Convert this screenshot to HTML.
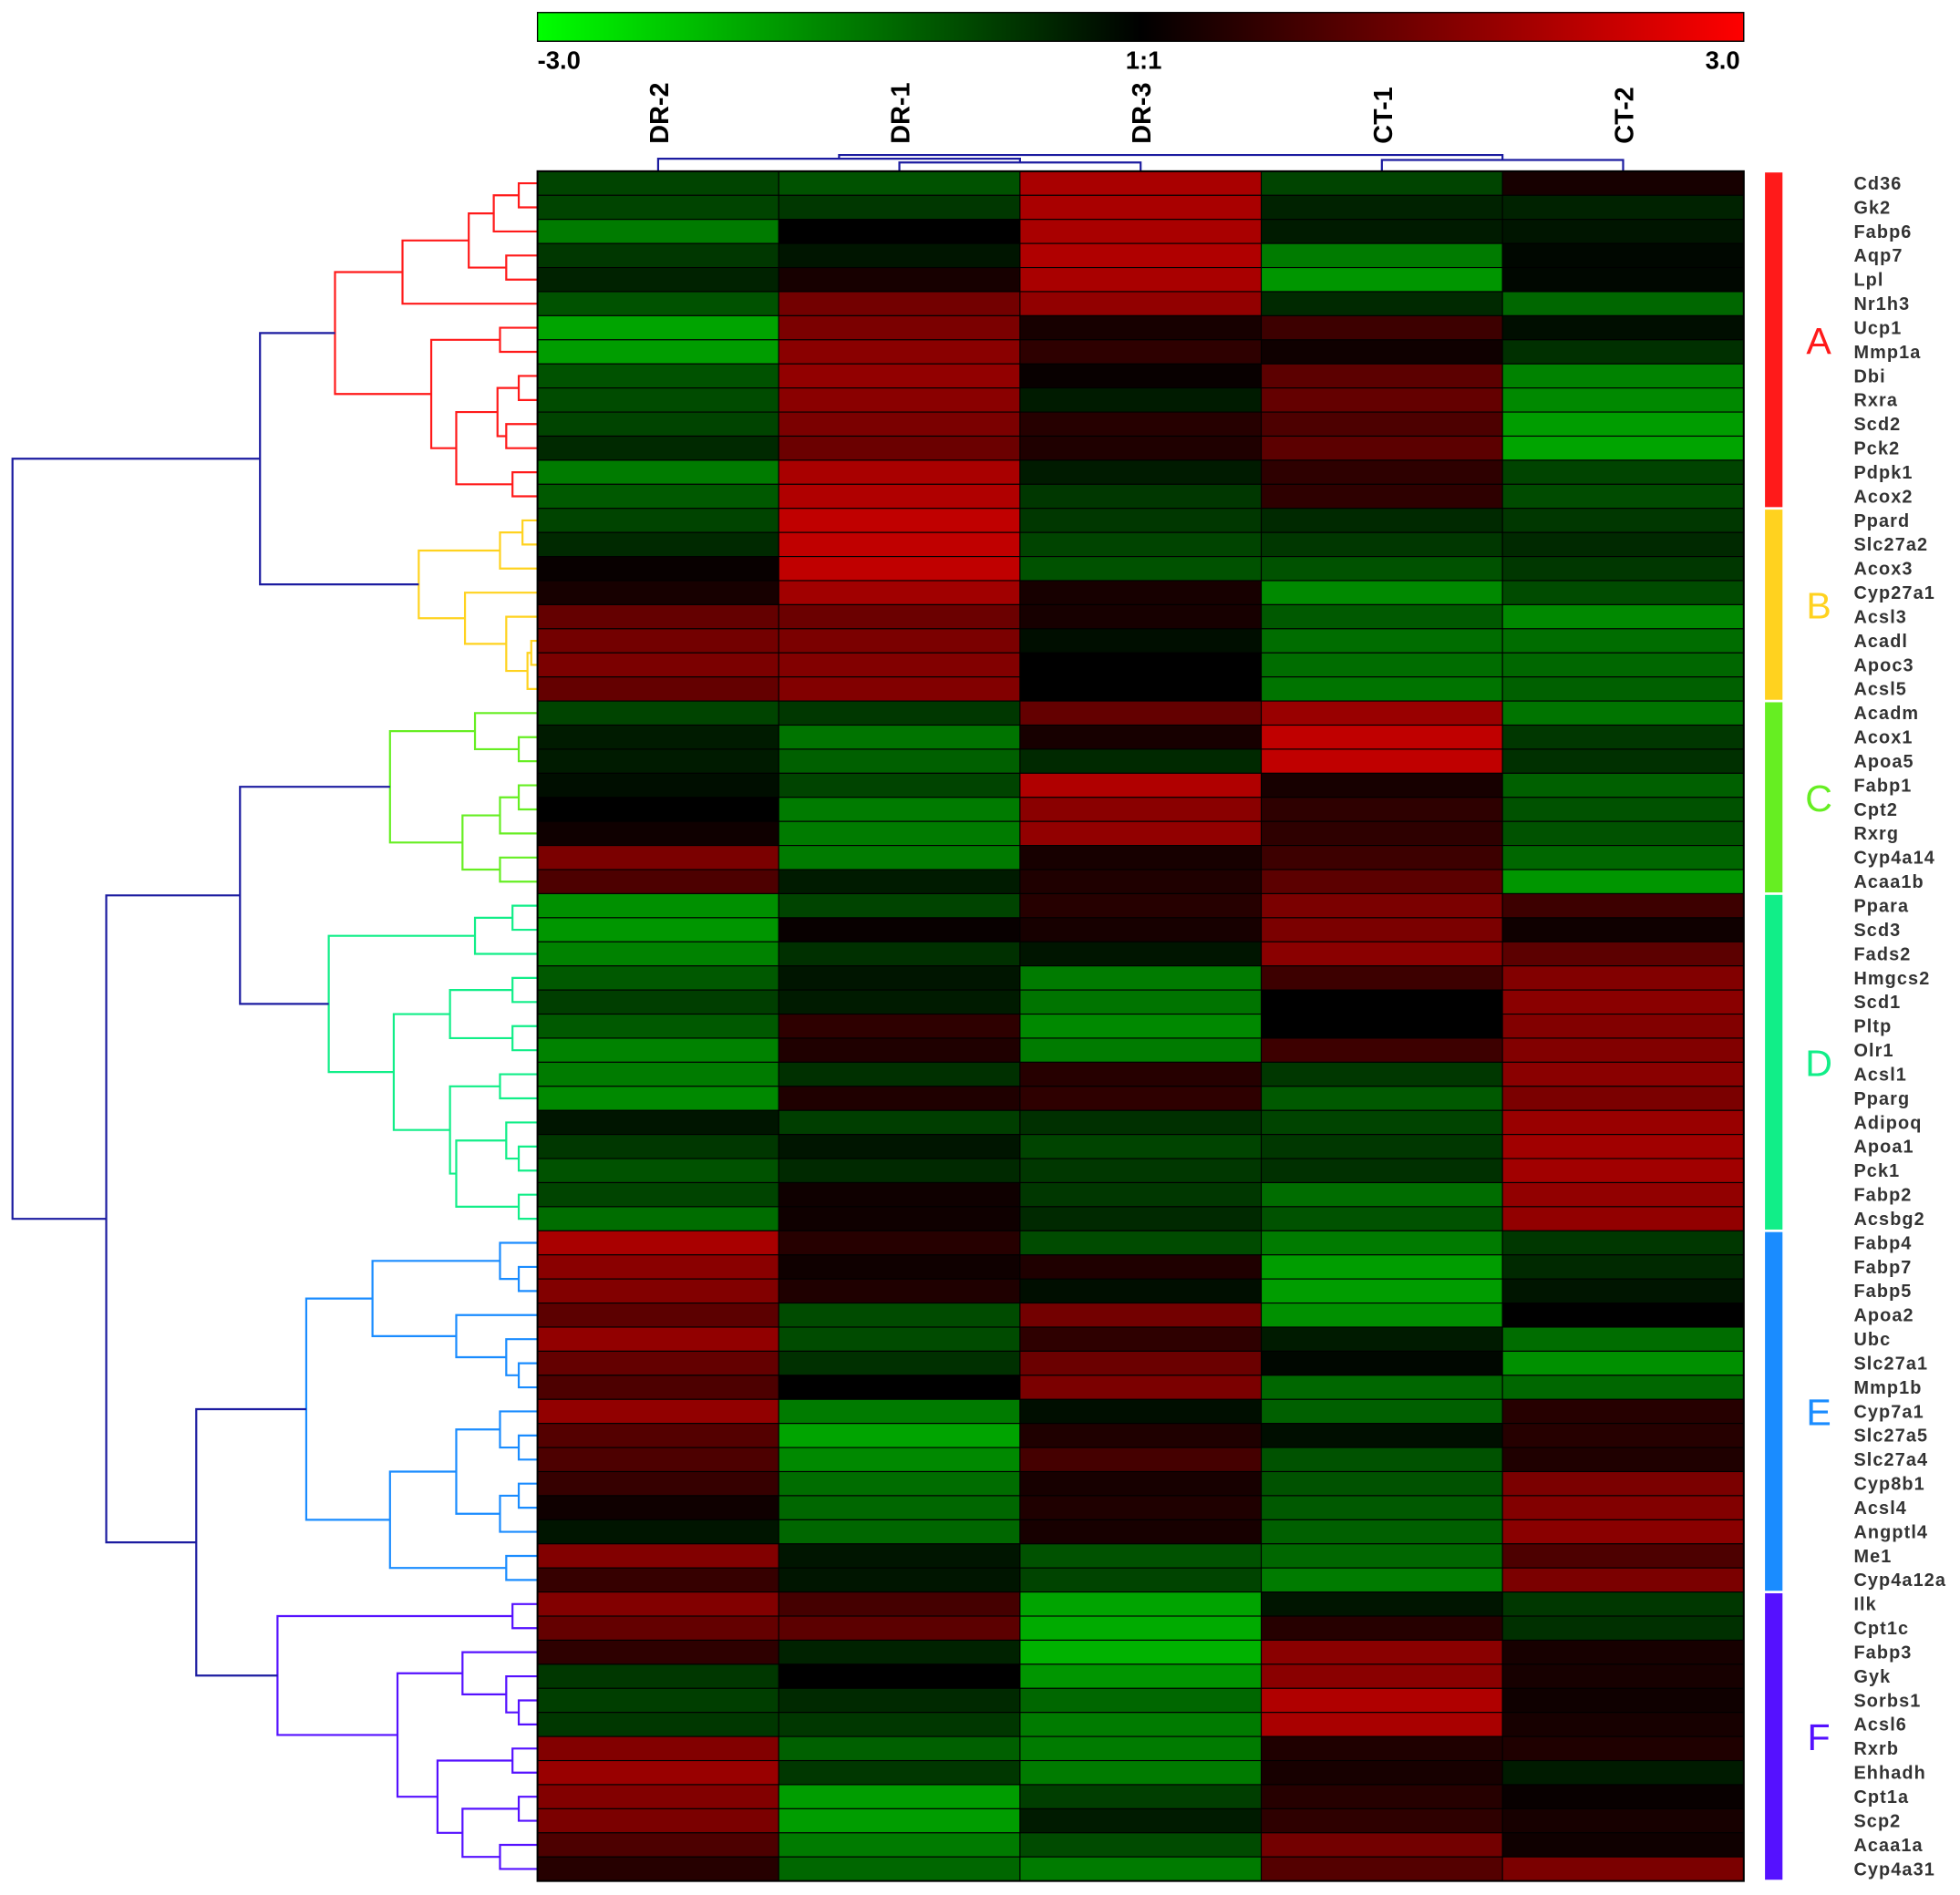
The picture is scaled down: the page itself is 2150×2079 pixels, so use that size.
<!DOCTYPE html>
<html><head><meta charset="utf-8"><style>
html,body{margin:0;padding:0;background:#fff;}
svg{display:block;}
</style></head><body>
<svg id="chart" width="2150" height="2079" viewBox="0 0 1568 1516.2" xmlns="http://www.w3.org/2000/svg" font-family="Liberation Sans, Arial, sans-serif">
<defs><linearGradient id="cb" x1="0" x2="1" y1="0" y2="0">
<stop offset="0" stop-color="#00ff00"/><stop offset="0.5" stop-color="#000"/><stop offset="1" stop-color="#ff0000"/></linearGradient></defs>
<rect x="430" y="10" width="965" height="23" fill="url(#cb)" stroke="#000" stroke-width="1"/>
<text x="430" y="55" font-size="20" font-weight="bold">-3.0</text>
<text x="915" y="55" font-size="20" font-weight="bold" text-anchor="middle">1:1</text>
<text x="1392" y="55" font-size="20" font-weight="bold" text-anchor="end">3.0</text>
<g id="dendro"></g>
<g id="cells"></g>
<g id="labels"></g>
</svg>
<script>
const samples=["DR-2","DR-1","DR-3","CT-1","CT-2"];
const genes=["Cd36","Gk2","Fabp6","Aqp7","Lpl","Nr1h3","Ucp1","Mmp1a","Dbi","Rxra","Scd2","Pck2","Pdpk1","Acox2","Ppard","Slc27a2","Acox3","Cyp27a1","Acsl3","Acadl","Apoc3","Acsl5","Acadm","Acox1","Apoa5","Fabp1","Cpt2","Rxrg","Cyp4a14","Acaa1b","Ppara","Scd3","Fads2","Hmgcs2","Scd1","Pltp","Olr1","Acsl1","Pparg","Adipoq","Apoa1","Pck1","Fabp2","Acsbg2","Fabp4","Fabp7","Fabp5","Apoa2","Ubc","Slc27a1","Mmp1b","Cyp7a1","Slc27a5","Slc27a4","Cyp8b1","Acsl4","Angptl4","Me1","Cyp4a12a","Ilk","Cpt1c","Fabp3","Gyk","Sorbs1","Acsl6","Rxrb","Ehhadh","Cpt1a","Scp2","Acaa1a","Cyp4a31"];
const valDR2=[-1.0,-1.0,-1.8,-0.8,-0.5,-1.2,-2.4,-2.3,-1.2,-1.1,-1.0,-0.6,-1.8,-1.3,-1.0,-0.6,0.1,0.3,1.3,1.5,1.6,1.3,-1.0,-0.4,-0.4,-0.2,0,0.2,1.6,1.0,-2.1,-2.2,-1.9,-1.3,-0.9,-1.3,-1.9,-1.8,-2.0,-0.3,-0.8,-1.2,-1.0,-1.6,2.2,1.8,1.7,1.2,1.9,1.3,1.0,1.9,1.1,1.0,0.7,0.2,-0.3,1.7,0.7,1.7,1.3,0.6,-0.8,-0.9,-0.8,1.7,2.0,1.7,1.6,1.0,0.5];
const valDR1=[-1.2,-0.8,0,-0.3,0.3,1.5,1.6,1.8,1.9,1.8,1.6,1.4,2.2,2.3,2.5,2.5,2.5,2.1,1.4,1.6,1.7,1.7,-0.8,-1.7,-1.4,-1.0,-1.8,-1.8,-1.8,-0.4,-1.0,0.1,-0.7,-0.3,-0.4,0.6,0.4,-0.7,0.4,-0.9,-0.3,-0.6,0.2,0.2,0.5,0.2,0.4,-1.1,-1.1,-0.7,0,-1.8,-2.4,-2.0,-1.6,-1.5,-1.5,-0.3,-0.3,0.9,1.2,-0.5,0,-0.6,-0.8,-1.4,-0.8,-2.3,-2.3,-1.8,-1.5];
const valDR3=[2.2,2.2,2.2,2.3,2.2,1.9,0.3,0.6,0.1,-0.4,0.5,0.4,-0.4,-0.8,-0.8,-1.0,-1.2,0.3,0.3,-0.2,0,0,1.3,0.3,-0.6,2.3,1.8,1.9,0.3,0.4,0.5,0.3,-0.3,-1.8,-1.7,-2.0,-1.8,0.5,0.6,-0.7,-1.0,-0.8,-0.8,-0.6,-1.1,0.4,-0.2,1.5,0.6,1.4,1.6,-0.2,0.4,0.9,0.3,0.4,0.3,-1.2,-1.0,-2.4,-2.5,-2.6,-2.2,-1.5,-1.8,-1.8,-1.8,-0.9,-0.4,-1.1,-1.8];
const valCT1=[-1.0,-0.5,-0.4,-1.8,-2.2,-0.6,0.8,0.2,1.2,1.3,1.0,1.2,0.6,0.6,-0.6,-0.8,-1.2,-2.0,-1.3,-1.6,-1.6,-1.7,2.0,2.5,2.5,0.3,0.6,0.6,0.8,1.2,1.6,1.6,1.8,0.8,0,0,0.8,-0.8,-1.3,-1.0,-0.8,-0.7,-1.6,-1.2,-1.8,-2.3,-2.3,-2.1,-0.4,-0.1,-1.5,-1.4,-0.2,-1.2,-1.2,-1.3,-1.4,-1.5,-1.8,-0.3,0.5,1.8,1.8,2.3,2.2,0.4,0.3,0.5,0.6,1.5,1.1];
const valCT2=[0.3,-0.5,-0.3,-0.1,-0.1,-1.5,-0.2,-0.7,-1.9,-2.0,-2.3,-2.4,-1.0,-1.1,-0.8,-0.6,-0.8,-1.1,-2.0,-1.6,-1.5,-1.4,-1.7,-0.8,-0.7,-1.4,-1.2,-1.2,-1.5,-2.2,0.8,0.2,1.2,1.7,1.8,1.7,1.7,1.8,1.6,2.0,2.1,2.1,1.9,1.9,-0.8,-0.6,-0.3,0,-1.6,-2.1,-1.5,0.5,0.5,0.4,1.6,1.7,1.8,1.0,1.6,-0.8,-0.7,0.3,0.3,0.2,0.3,0.4,-0.4,0.1,0.3,0.2,1.6];
const series=[valDR2,valDR1,valDR3,valCT1,valCT2];
const clusters=[["A",0,13,"#ff1a1a"],["B",14,21,"#ffd21f"],["C",22,29,"#66ee22"],["D",30,43,"#11ee88"],["E",44,58,"#1a8cff"],["F",59,70,"#5511ff"]];
const NS="http://www.w3.org/2000/svg";
const X0=430,X1=1395,Y0=137,Y1=1505;
const cw=(X1-X0)/samples.length, rh=(Y1-Y0)/genes.length;
const xS=i=>X0+i*cw, yS=j=>Y0+j*rh;
function col(v){v=Math.max(-3,Math.min(3,v));
 if(v>=0) return `rgb(${Math.round(v/3*230)},0,0)`;
 return `rgb(0,${Math.round(-v/3*205)},0)`;}
function mk(tag,attrs,parent){const e=document.createElementNS(NS,tag);for(const k in attrs)e.setAttribute(k,attrs[k]);parent.appendChild(e);return e;}
const cells=document.getElementById('cells');
series.forEach((s,i)=>s.forEach((v,j)=>{
 const r=mk('rect',{x:xS(i),y:yS(j),width:cw,height:rh,fill:col(v),stroke:'#000','stroke-width':0.8},cells);
 
 
}));
mk('rect',{x:X0,y:Y0,width:X1-X0,height:Y1-Y0,fill:'none',stroke:'#000','stroke-width':1.5},cells);
const lab=document.getElementById('labels');
samples.forEach((s,i)=>{
 const cx=xS(i)+cw/2+8;
 const t=mk('text',{x:0,y:0,transform:`translate(${cx},115) rotate(-90)`,'font-size':21,'font-weight':'bold'},lab);
 t.textContent=s;
 
 
});
genes.forEach((g,j)=>{
 const t=mk('text',{x:1483,y:yS(j)+rh/2+5,'font-size':14.5,'font-weight':'bold',fill:'#333','letter-spacing':'0.8'},lab);
 t.textContent=g;
 
 
});
clusters.forEach(c=>{
 const r=mk('rect',{x:1412,y:yS(c[1])+1,width:14,height:(c[2]-c[1]+1)*rh-2,fill:c[3]},lab);
 
 
 const t=mk('text',{x:1455,y:yS((c[1]+c[2]+1)/2)+11,'font-size':30,fill:c[3],'text-anchor':'middle'},lab);
 t.textContent=c[0];
 
 
});
const A=[268,[322,[375,[395,[415,0,1],2],[405,3,4]],5],[345,[400,6,7],[365,[398,[415,8,9],[405,10,11]],[410,12,13]]]];
const B=[335,[400,[418,14,15],16],[372,17,[405,18,[422,[425,19,20],21]]]];
const C=[312,[380,22,[415,23,24]],[370,[400,[415,25,26],27],[400,28,29]]];
const D=[263,[380,[410,30,31],32],[315,[360,[410,33,34],[410,35,36]],[360,[400,37,38],[365,[405,39,[415,40,41]],[415,42,43]]]]];
const E=[245,[298,[400,44,[415,45,46]],[365,47,[405,48,[415,49,50]]]],[312,[365,[400,51,[415,52,53]],[400,[415,54,55],56]],[405,57,58]]];
const F=[222,[410,59,60],[318,[370,61,[405,62,[415,63,64]]],[350,[410,65,66],[370,[415,67,68],[400,69,70]]]]];
const colorOf={};[[A,0],[B,1],[C,2],[D,3],[E,4],[F,5]].forEach(p=>colorOf[JSON.stringify(p[0])]=clusters[p[1]][3]);
const root=[10,[208,A,B],[85,[192,C,D],[157,E,F]]];
const dg=document.getElementById('dendro');
function draw(n,color){
 if(typeof n==='number') return {x:X0,y:yS(n)+rh/2};
 const c=colorOf[JSON.stringify(n)]||color;
 const l=draw(n[1],c), r=draw(n[2],c), h=n[0];
 const p=mk('path',{d:`M${l.x},${l.y}H${h}V${r.y}H${r.x}`,fill:'none',stroke:c,'stroke-width':1.6},dg);
 
 
 return {x:h,y:(l.y+r.y)/2};
}
draw(root,'#1c1ca0');
const cc=i=>xS(i)+cw/2;
function cdraw(n){
 if(typeof n==='number') return {y:Y0,x:cc(n)};
 const l=cdraw(n[1]),r=cdraw(n[2]),h=n[0];
 const p=mk('path',{d:`M${l.x},${l.y}V${h}H${r.x}V${r.y}`,fill:'none',stroke:'#1c1ca0','stroke-width':1.6},dg);
 
 
 return {x:(l.x+r.x)/2,y:h};
}
cdraw([124,[127,0,[130,1,2]],[128,3,4]]);
</script>
</body></html>
